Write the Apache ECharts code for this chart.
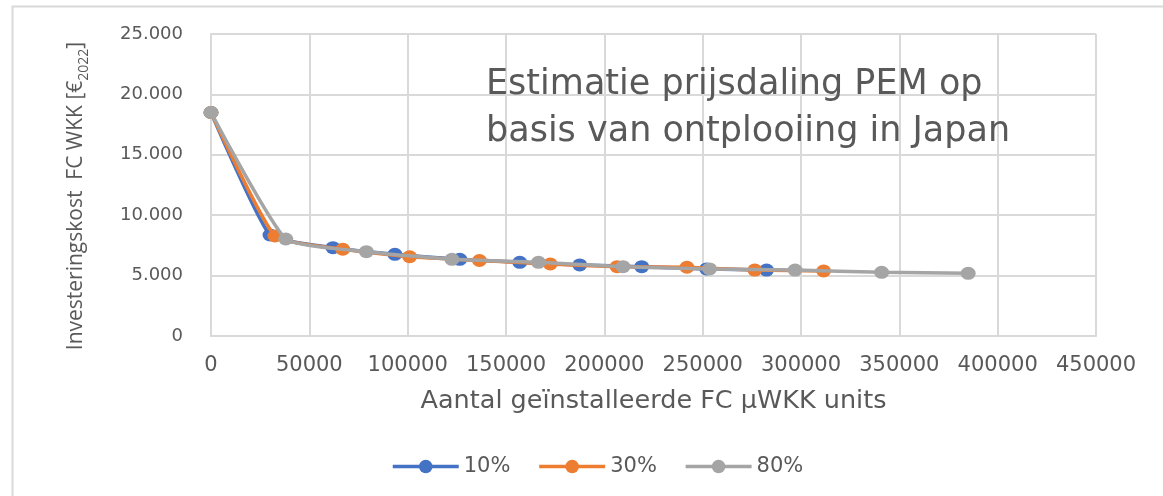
<!DOCTYPE html>
<html>
<head>
<meta charset="utf-8">
<script src="https://cdn.jsdelivr.net/npm/echarts@6/dist/echarts.min.js"></script>
<style>
  html, body { margin: 0; padding: 0; background: #ffffff; }
  #chart { width: 1163px; height: 496px; }
</style>
</head>
<body>
<div id="chart"></div>
<script>
// Installed FC micro-CHP units (x) and investment cost per unit in €2022 (y)
const seriesNames = ['10%', '30%', '80%'];

const units10 = [0, 30000, 62000, 93500, 126500, 157000, 187500, 219000, 252000, 282500];
const cost10  = [18500, 8360, 7310, 6760, 6350, 6100, 5880, 5740, 5550, 5460];

const units30 = [0, 32500, 67000, 101000, 136500, 172500, 206500, 242000, 276500, 311500];
const cost30  = [18500, 8280, 7180, 6560, 6250, 5960, 5740, 5690, 5460, 5380];

const units80 = [0, 38000, 79000, 122500, 166500, 209500, 253500, 297000, 341000, 385000];
const cost80  = [18500, 8030, 6980, 6350, 6100, 5740, 5550, 5460, 5270, 5190];

const xTicks = { min: 0, max: 450000, step: 50000 };
const yTicks = { min: 0, max: 25000, step: 5000 };

const colors = ['#4472C4', '#ED7D31', '#A5A5A5'];
const textGrey = '#595959';
const gridGrey = '#d9d9d9';

function pairs(xs, ys) { return xs.map((x, i) => [x, ys[i]]); }
function dotThousands(v) { return String(v).replace(/\B(?=(\d{3})+(?!\d))/g, '.'); }

const seriesData = [pairs(units10, cost10), pairs(units30, cost30), pairs(units80, cost80)];

const chart = echarts.init(document.getElementById('chart'), null, { renderer: 'canvas' });

chart.setOption({
  animation: false,
  backgroundColor: '#ffffff',
  color: colors,
  grid: { left: 211, right: 67, top: 34, bottom: 160, containLabel: false },
  xAxis: {
    type: 'value',
    min: xTicks.min, max: xTicks.max, interval: xTicks.step,
    name: 'Aantal geïnstalleerde FC µWKK units',
    nameLocation: 'middle',
    nameGap: 52,
    nameTextStyle: { fontFamily: 'DejaVu Sans', fontSize: 25.5, color: textGrey },
    axisLine: { show: true, lineStyle: { color: gridGrey, width: 2 } },
    axisTick: { show: false },
    axisLabel: {
      margin: 19, fontFamily: 'DejaVu Sans', fontSize: 21, color: textGrey,
      formatter: v => String(v)
    },
    splitLine: { show: true, lineStyle: { color: gridGrey, width: 2 } }
  },
  yAxis: {
    type: 'value',
    min: yTicks.min, max: yTicks.max, interval: yTicks.step,
    name: '{a|Investeringskost  FC WKK [€}{s|2022}{a|]}',
    nameLocation: 'middle',
    nameGap: 124,
    nameTextStyle: {
      color: textGrey,
      padding: [0, 22, 0, 0],
      rich: {
        a: { fontFamily: 'Open Sans', fontSize: 21, color: textGrey, lineHeight: 28, verticalAlign: 'bottom' },
        s: { fontFamily: 'Open Sans', fontSize: 14, color: textGrey, lineHeight: 28, verticalAlign: 'bottom', padding: [0, 0, -4, 0] }
      }
    },
    axisLine: { show: true, lineStyle: { color: gridGrey, width: 2 } },
    axisTick: { show: false },
    axisLabel: {
      margin: 28, fontFamily: 'DejaVu Sans', fontSize: 18, color: textGrey,
      formatter: v => dotThousands(v)
    },
    splitLine: { show: true, lineStyle: { color: gridGrey, width: 2 } }
  },
  legend: {
    data: seriesNames,
    bottom: 14,
    left: 386,
    itemWidth: 66,
    itemHeight: 17,
    itemGap: 27,
    lineStyle: { width: 3.5 },
    textStyle: { fontFamily: 'DejaVu Sans', fontSize: 21, color: textGrey }
  },
  graphic: [
    {
      type: 'rect', silent: true, z: -1,
      shape: { x: 12.5, y: 6.5, width: 1400, height: 700 },
      style: { fill: 'none', stroke: gridGrey, lineWidth: 2 }
    },
    {
      type: 'text', left: 486, top: 61, z: 10,
      style: {
        text: 'Estimatie prijsdaling PEM op\nbasis van ontplooiing in Japan',
        fontFamily: 'DejaVu Sans', fontSize: 35, lineHeight: 47,
        fill: textGrey
      }
    }
  ],
  series: seriesNames.map((name, i) => ({
    name: name,
    type: 'line',
    data: seriesData[i],
    smooth: 0.15,
    symbol: 'circle',
    symbolSize: [15, 13],
    itemStyle: { color: colors[i] },
    lineStyle: { color: colors[i], width: 3.5 },
    z: 2 + i
  }))
});
</script>
</body>
</html>
